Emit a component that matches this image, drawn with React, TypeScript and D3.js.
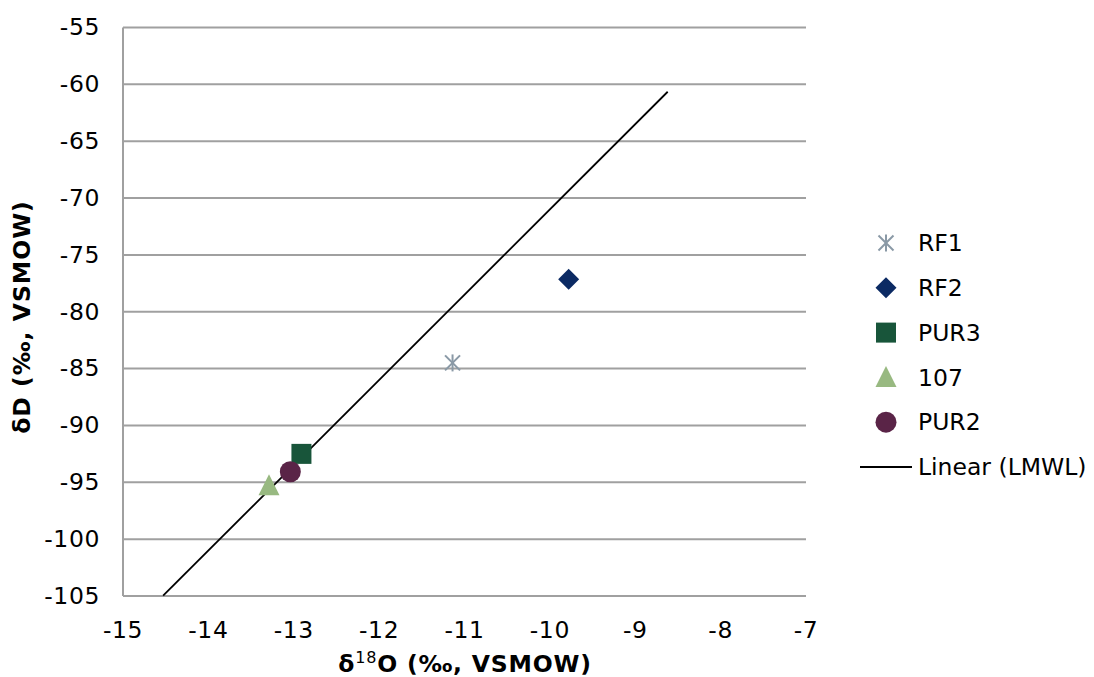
import React from "react";
import * as d3 from "d3";

const xTicks = [-15, -14, -13, -12, -11, -10, -9, -8, -7];
const yTicks = [-55, -60, -65, -70, -75, -80, -85, -90, -95, -100, -105];

const seriesNames = ["RF1", "RF2", "PUR3", "107", "PUR2"];
const seriesX = [-11.14, -9.78, -12.91, -13.29, -13.04];
const seriesY = [-84.5, -77.15, -92.5, -95.3, -94.07];
const seriesColors = ["#8a99a6", "#0b2a63", "#18553a", "#98b981", "#5a2447"];
const seriesShapes = ["asterisk", "diamond", "square", "triangle", "circle"];

const lmwlSlope = 7.5;
const lmwlIntercept = 4;
const lmwlXRange = [-14.53, -8.62];

const W = 1094, H = 677;
const L = 123, R = 806, T = 27.5, B = 596;

function Marker({ shape, x, y, color }: { shape: string; x: number; y: number; color: string }) {
  if (shape === "asterisk") {
    const s = 7.5;
    return (
      <g stroke={color} strokeWidth={2}>
        <line x1={x - s} y1={y - s} x2={x + s} y2={y + s} />
        <line x1={x - s} y1={y + s} x2={x + s} y2={y - s} />
        <line x1={x} y1={y - s - 1} x2={x} y2={y + s + 1} />
      </g>
    );
  }
  if (shape === "diamond") {
    const s = 10.5;
    return <path d={`M${x},${y - s}L${x + s},${y}L${x},${y + s}L${x - s},${y}Z`} fill={color} />;
  }
  if (shape === "square") {
    return <rect x={x - 10} y={y - 10} width={20} height={20} fill={color} />;
  }
  if (shape === "triangle") {
    return <path d={`M${x},${y - 11.5}L${x + 10.5},${y + 9.5}L${x - 10.5},${y + 9.5}Z`} fill={color} />;
  }
  return <circle cx={x} cy={y} r={10.5} fill={color} />;
}

export default function App() {
  const xs = d3.scaleLinear().domain([-15, -7]).range([L, R]);
  const ys = d3.scaleLinear().domain([-105, -55]).range([B, T]);
  const font = "'DejaVu Sans', Verdana, sans-serif";
  const lx0 = lmwlXRange[0], lx1 = lmwlXRange[1];
  const legendY0 = 243, legendStep = 44.8;
  const fs = 23.5;
  return (
    <svg width={W} height={H} style={{ position: "absolute", left: 0, top: 0, background: "#fff" }} fontFamily={font}>
      {yTicks.map((t) => (
        <line key={"g" + t} x1={L} x2={R} y1={ys(t)} y2={ys(t)} stroke="#a0a0a0" strokeWidth={2} />
      ))}
      <line x1={L} x2={L} y1={T} y2={B} stroke="#a0a0a0" strokeWidth={2} />
      {yTicks.map((t) => (
        <text key={"yt" + t} x={100} y={ys(t)} dy="0.33em" textAnchor="end" fontSize={fs} letterSpacing={0.6} fill="#000">
          {t}
        </text>
      ))}
      {xTicks.map((t) => (
        <text key={"xt" + t} x={xs(t)} y={638} textAnchor="middle" fontSize={fs} letterSpacing={0.6} fill="#000">
          {t}
        </text>
      ))}
      <line
        x1={xs(lx0)} y1={ys(lmwlSlope * lx0 + lmwlIntercept)}
        x2={xs(lx1)} y2={ys(lmwlSlope * lx1 + lmwlIntercept)}
        stroke="#000" strokeWidth={1.8}
      />
      {seriesNames.map((n, i) => (
        <Marker key={n} shape={seriesShapes[i]} x={xs(seriesX[i])} y={ys(seriesY[i])} color={seriesColors[i]} />
      ))}
      <text x={465} y={672} textAnchor="middle" fontSize={fs} fontWeight="bold" letterSpacing={0.8}>
        δ<tspan fontWeight="normal" fontSize={16} dy={-9}>18</tspan><tspan dy={9}>O (‰, VSMOW)</tspan>
      </text>
      <text transform={`translate(30,317) rotate(-90)`} textAnchor="middle" fontSize={fs} fontWeight="bold" letterSpacing={1}>
        δD (‰, VSMOW)
      </text>
      {seriesNames.map((n, i) => (
        <g key={"lg" + n}>
          <Marker shape={seriesShapes[i]} x={886} y={legendY0 + i * legendStep} color={seriesColors[i]} />
          <text x={918} y={legendY0 + i * legendStep} dy="0.35em" fontSize={fs}>{n}</text>
        </g>
      ))}
      <line x1={860} x2={912} y1={legendY0 + 5 * legendStep} y2={legendY0 + 5 * legendStep} stroke="#000" strokeWidth={1.8} />
      <text x={918} y={legendY0 + 5 * legendStep} dy="0.35em" fontSize={fs}>Linear (LMWL)</text>
    </svg>
  );
}
